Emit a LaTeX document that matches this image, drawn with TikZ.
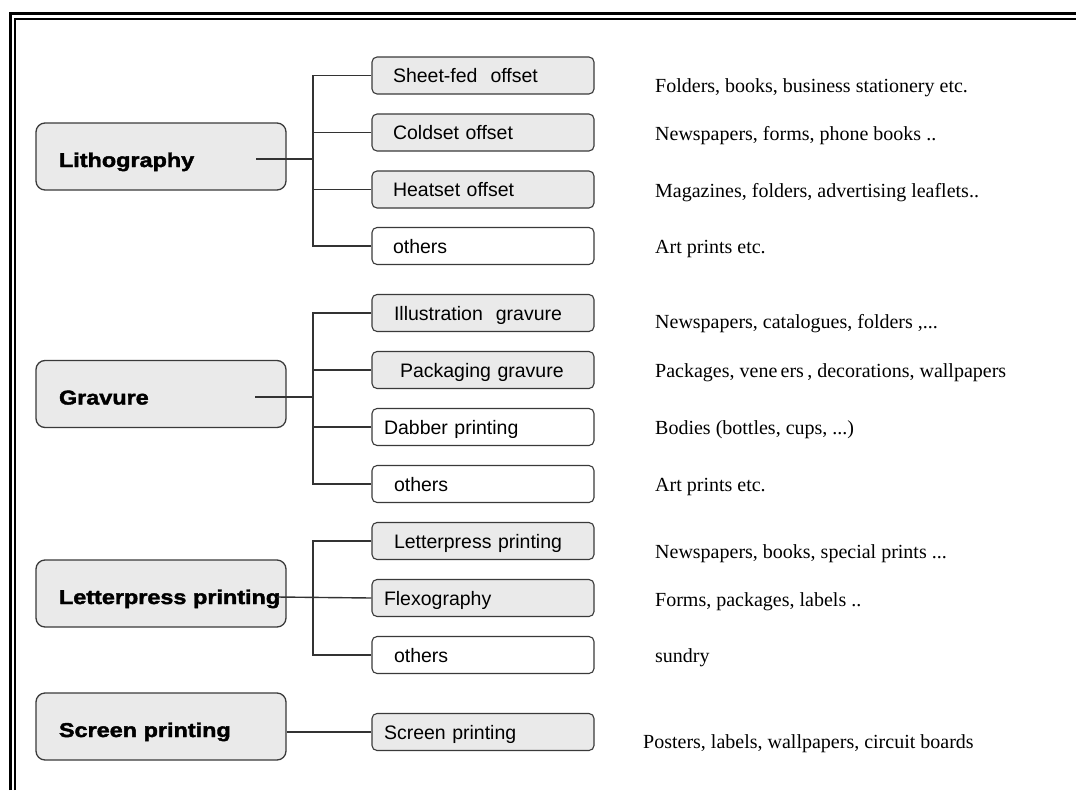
\documentclass[tikz,border=0pt]{standalone}
\usepackage{fontspec}
\setmainfont{Liberation Serif}
\newfontfamily\boxfont{Liberation Sans}
\newfontfamily\catfont[FakeStretch=1.17,FakeBold=2]{Liberation Sans}
\definecolor{boxgray}{HTML}{EAEAEA}
\definecolor{edge}{HTML}{3A3A3A}
\begin{document}
\begin{tikzpicture}[x=1pt, y=-1pt,
    catbox/.style={draw=edge, line width=1.3pt, fill=boxgray, rounded corners=9pt,
      minimum height=67pt, text width=250pt, inner xsep=0pt, align=left,
      text height=21pt, text depth=0pt,
      font=\catfont\bfseries\fontsize{20pt}{22pt}\selectfont},
    subbox/.style={draw=edge, line width=1.1pt, rounded corners=5pt,
      minimum height=37pt, text width=222pt, inner xsep=0pt, align=left,
      text height=14.5pt, text depth=0pt,
      font=\boxfont\fontsize{19.5pt}{22pt}\selectfont},
    graysub/.style={subbox, fill=boxgray},
    whitesub/.style={subbox, fill=white},
    desc/.style={anchor=west, inner sep=0pt, text height=14pt, text depth=4pt,
      font=\fontsize{20pt}{24pt}\selectfont},
    link/.style={draw=black!80, line width=1.4pt}]
    \useasboundingbox (0,0) rectangle (1076,790);
    % frame, top and left only
    \draw[line width=2.5pt] (10.5,790) -- (10.5,13.5) -- (1076,13.5);
    \draw[line width=2pt] (15,790) -- (15,18.5) -- (1076,18.5);

    % main processes
    \node[catbox] (litho) at (161,156.5) {\hspace*{23pt}Lithography};
    \node[catbox] (grav) at (161,394) {\hspace*{23pt}Gravure};
    \node[catbox] (letter) at (161,593.5) {\hspace*{23pt}Letterpress printing};
    \node[catbox] (screen) at (161,726.5) {\hspace*{23pt}Screen printing};

    % lithography
    \node[graysub] (sheetfed) at (483,75.5) {\hspace*{21pt}Sheet-fed\ \ offset};
    \node[graysub] (coldset) at (483,132.5) {\hspace*{21pt}Coldset offset};
    \node[graysub] (heatset) at (483,189.5) {\hspace*{21pt}Heatset offset};
    \node[whitesub] (otherlitho) at (483,246) {\hspace*{21pt}others};
    \node[desc] (dsheetfed) at (655,87) {Folders, books, business stationery etc.};
    \node[desc] (dcoldset) at (655,135) {Newspapers, forms, phone books ..};
    \node[desc] (dheatset) at (655,192) {Magazines, folders, advertising leaflets..};
    \node[desc] (dotherlitho) at (655,248) {Art prints etc.};
    \coordinate (lithostem) at (256,159);
    \coordinate (lithojoin) at (313,159);
    \draw[link] (lithostem) -- (lithojoin);
    \draw[link] (sheetfed.west) -| (lithojoin) |- (otherlitho.west);
    \draw[link] (coldset.west) -- (coldset.west -| lithojoin);
    \draw[link] (heatset.west) -- (heatset.west -| lithojoin);

    % gravure
    \node[graysub] (illus) at (483,313) {\hspace*{22pt}Illustration\ \ gravure};
    \node[graysub] (packgrav) at (483,370) {\hspace*{28pt}Packaging\ gravure};
    \node[whitesub] (dabber) at (483,427) {\hspace*{12pt}Dabber printing};
    \node[whitesub] (othergrav) at (483,484) {\hspace*{22pt}others};
    \node[desc] (dillus) at (655,323) {Newspapers, catalogues, folders ,...};
    \node[desc] (dpackgrav) at (655,372) {Packages, vene\,ers\,, decorations, wallpapers};
    \node[desc] (ddabber) at (655,429) {Bodies (bottles, cups, ...)};
    \node[desc] (dothergrav) at (655,486) {Art prints etc.};
    \coordinate (gravstem) at (255,397);
    \coordinate (gravjoin) at (313,397);
    \draw[link] (gravstem) -- (gravjoin);
    \draw[link] (illus.west) -| (gravjoin) |- (othergrav.west);
    \draw[link] (packgrav.west) -- (packgrav.west -| gravjoin);
    \draw[link] (dabber.west) -- (dabber.west -| gravjoin);

    % letterpress
    \node[graysub] (letterpr) at (483,541) {\hspace*{22pt}Letterpress printing};
    \node[graysub] (flexo) at (483,598) {\hspace*{12pt}Flexography};
    \node[whitesub] (otherletter) at (483,655) {\hspace*{22pt}others};
    \node[desc] (dletterpr) at (655,553) {Newspapers, books, special prints ...};
    \node[desc] (dflexo) at (655,601) {Forms, packages, labels ..};
    \node[desc] (dotherletter) at (655,657) {sundry};
    \coordinate (letterstem) at (277,597);
    \coordinate (letterjoin) at (313,598);
    \draw[link] (letterstem) -- (flexo.west);
    \draw[link] (letterpr.west) -| (letterjoin) |- (otherletter.west);

    % screen printing
    \node[graysub] (screenpr) at (483,732) {\hspace*{12pt}Screen printing};
    \node[desc] (dscreenpr) at (643,743) {Posters, labels, wallpapers, circuit boards};
    \draw[link] (screenpr.west -| screen.east) -- (screenpr.west);
\end{tikzpicture}
\end{document}
